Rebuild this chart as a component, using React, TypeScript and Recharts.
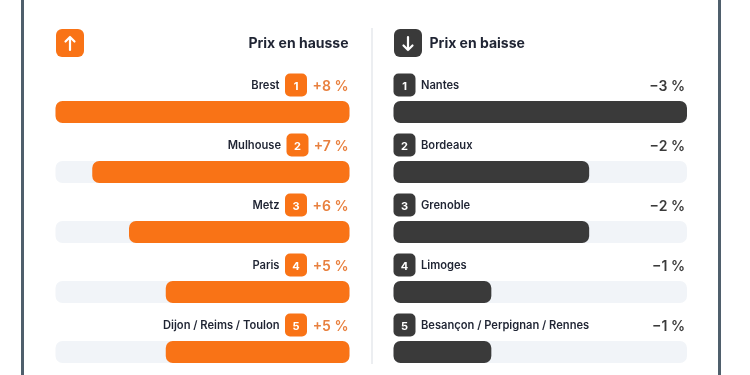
import { Bar, BarChart, XAxis, YAxis } from "recharts";

const risingCities = ["Brest", "Mulhouse", "Metz", "Paris", "Dijon / Reims / Toulon"];
const risingValues = [8, 7, 6, 5, 5];
const fallingCities = ["Nantes", "Bordeaux", "Grenoble", "Limoges", "Besançon / Perpignan / Rennes"];
const fallingValues = [-3, -2, -2, -1, -1];

const ORANGE = "#f97316";
const DARK = "#3a3a3a";
const TRACK = "#f1f4f8";
const INK = "#1f2433";
const FONT = "Inter, sans-serif";

const risingData = risingCities.map((city, i) => ({ city, value: risingValues[i] }));
const fallingData = fallingCities.map((city, i) => ({ city, value: fallingValues[i] }));

function Badge({ x, y, rank, fill }: { x: number; y: number; rank: number; fill: string }) {
  return (
    <g>
      <rect x={x} y={y - 11.5} width={22} height={23} rx={5} fill={fill} />
      <text x={x + 11} y={y + 0.5} textAnchor="middle" dominantBaseline="central" fill="#fff" fontSize={11} fontWeight={700}>
        {rank}
      </text>
    </g>
  );
}

function RisingTick({ y, payload, index }: any) {
  const value = risingValues[index];
  // the row is a right aligned flex line, so a narrow 7 pushes the badge over
  const badgeShift = value === 7 ? 1.5 : 0;
  const rowY = y - 27;
  return (
    <g fontFamily={FONT}>
      <text x={279.5 + badgeShift} y={rowY} textAnchor="end" dominantBaseline="central" fill={INK} fontSize={11.15} fontWeight={600}>
        {payload.value}
      </text>
      <Badge x={285 + badgeShift} y={rowY} rank={index + 1} fill={ORANGE} />
      <text x={348.5} y={rowY} textAnchor="end" dominantBaseline="central" fill="#e8803f" fontSize={14} fontWeight={600}>
        {`+${value} %`}
      </text>
    </g>
  );
}

function FallingTick({ y, payload, index }: any) {
  const rowY = y - 27;
  return (
    <g fontFamily={FONT}>
      <Badge x={393.5} y={rowY} rank={index + 1} fill={DARK} />
      <text x={421} y={rowY} dominantBaseline="central" fill={INK} fontSize={11.15} fontWeight={600}>
        {payload.value}
      </text>
      <text x={685} y={rowY} textAnchor="end" dominantBaseline="central" fill={DARK} fontSize={14} fontWeight={600}>
        {`−${Math.abs(fallingValues[index])} %`}
      </text>
    </g>
  );
}

function HeaderIcon({ left, fill, down }: { left: number; fill: string; down?: boolean }) {
  return (
    <div style={{ position: "absolute", left, top: 29, width: 28, height: 28, borderRadius: 6, background: fill }}>
      <svg width={28} height={28} viewBox="0 0 28 28" style={{ display: "block" }}>
        <path
          d={down ? "M14 8V21M9.5 16.5L14 21L18.5 16.5" : "M14 21V8M9.5 12.5L14 8L18.5 12.5"}
          fill="none"
          stroke="#fff"
          strokeWidth={2.2}
          strokeLinecap="round"
          strokeLinejoin="round"
        />
      </svg>
    </div>
  );
}

const titleStyle = {
  position: "absolute",
  top: 33,
  lineHeight: "20px",
  fontSize: 14,
  fontWeight: 700,
  color: INK,
  fontFamily: FONT,
  whiteSpace: "nowrap",
} as const;

export default function App() {
  return (
    <div
      style={{
        position: "fixed",
        left: 0,
        top: 0,
        width: 750,
        height: 375,
        overflow: "hidden",
        background: "#fff",
        filter: "blur(0.55px)",
      }}
    >
      <div style={{ position: "absolute", left: 21, top: 0, width: 2.5, height: 375, background: "#4f5f6c" }} />
      <div style={{ position: "absolute", left: 718, top: 0, width: 2.5, height: 375, background: "#4f5f6c" }} />
      <div style={{ position: "absolute", left: 371, top: 28, width: 1.5, height: 336, background: "#eceef1" }} />

      <HeaderIcon left={55.5} fill={ORANGE} />
      <div style={{ ...titleStyle, right: 750 - 348.5 }}>Prix en hausse</div>
      <HeaderIcon left={393.5} fill={DARK} down />
      <div style={{ ...titleStyle, left: 429.5 }}>Prix en baisse</div>

      <div style={{ position: "absolute", left: 0, top: 0 }}>
        <BarChart
          width={750}
          height={382}
          data={risingData}
          layout="vertical"
          margin={{ top: 82, right: 400.5, bottom: 0, left: 54.5 }}
        >
          <XAxis type="number" domain={[0, 8]} reversed hide />
          <YAxis type="category" dataKey="city" width={1} interval={0} axisLine={false} tickLine={false} tick={(props: any) => <RisingTick {...props} />} />
          <Bar
            dataKey="value"
            fill={ORANGE}
            barSize={22}
            radius={7}
            background={{ fill: TRACK, radius: 7 }}
            isAnimationActive={false}
          />
        </BarChart>
      </div>

      <div style={{ position: "absolute", left: 0, top: 0 }}>
        <BarChart
          width={750}
          height={382}
          data={fallingData}
          layout="vertical"
          margin={{ top: 82, right: 63, bottom: 0, left: 392.5 }}
        >
          <XAxis type="number" domain={[-3, 0]} reversed hide />
          <YAxis type="category" dataKey="city" width={1} interval={0} axisLine={false} tickLine={false} tick={(props: any) => <FallingTick {...props} />} />
          <Bar
            dataKey="value"
            fill={DARK}
            barSize={22}
            radius={7}
            background={{ fill: TRACK, radius: 7 }}
            isAnimationActive={false}
          />
        </BarChart>
      </div>
    </div>
  );
}
